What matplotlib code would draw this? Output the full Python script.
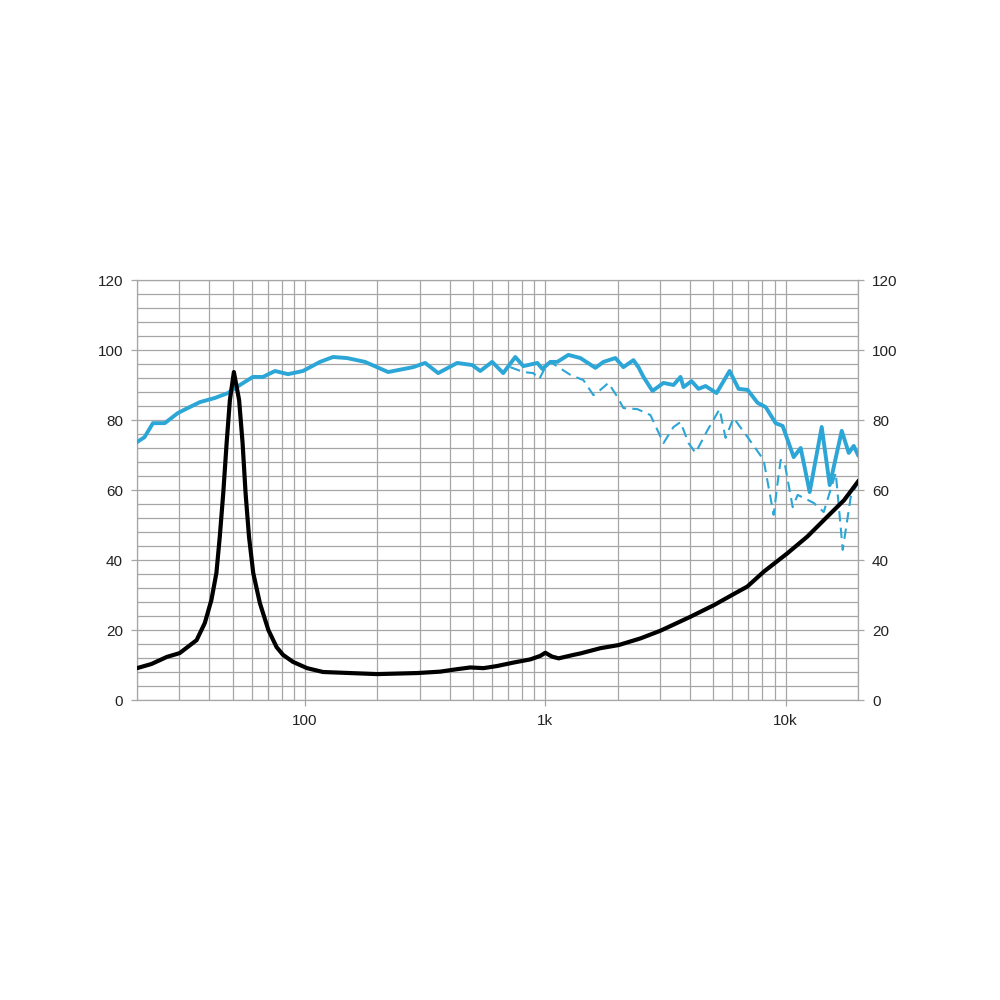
import numpy as np
import matplotlib
matplotlib.use("Agg")
import matplotlib.pyplot as plt
from matplotlib.ticker import LogLocator, FixedLocator, NullFormatter

plt.rcParams["font.family"] = ["Liberation Sans", "DejaVu Sans"]

# ===== 数据：频率 (Hz) / 声压 (dB) / 阻抗 (ohm) =====
spl_freq = [20, 21.5, 23.3, 26.1, 29.6, 32.5, 36.5, 42.2, 47.8, 53.6, 60.7, 66.8,
            75.0, 85.0, 98, 115.5, 130.8, 149.6, 177.8, 221.8, 281.8, 316.2, 358.3,
            429.9, 496.5, 536, 601, 668, 750, 810, 926, 972, 1049, 1122, 1247,
            1399, 1616, 1745, 1957, 2113, 2326, 2441, 2561, 2792, 3102, 3415, 3652,
            3758, 4058, 4340, 4642, 5158, 5843, 6371, 6945, 7644, 8254, 9086, 9716,
            10798, 11548, 12589, 14125, 15255, 17113, 18302, 19201, 20000]
spl_db = [73.7, 75.1, 79.1, 79.1, 82.0, 83.4, 85.1, 86.3, 87.7, 90.0, 92.3, 92.3,
          94.0, 93.1, 94.0, 96.6, 98.0, 97.7, 96.6, 93.7, 95.1, 96.3, 93.4,
          96.3, 95.7, 94.0, 96.6, 93.4, 98.0, 95.4, 96.3, 94.6, 96.6, 96.6, 98.6,
          97.7, 94.9, 96.6, 97.7, 95.1, 97.1, 95.1, 92.3, 88.3, 90.6, 90.0, 92.3,
          89.4, 91.1, 88.9, 89.7, 87.7, 94.0, 88.9, 88.6, 84.9, 83.7, 79.1, 78.3,
          69.4, 72.0, 59.4, 78.0, 61.4, 76.9, 70.6, 72.6, 70.0]

off_freq = [715, 810, 891, 944, 1000, 1049, 1133, 1271, 1440, 1585, 1695, 1830,
            1995, 2113, 2417, 2738, 3102, 3415, 3652, 3943, 4217, 4732, 5309, 5623,
            6072, 6945, 8096, 8913, 9268, 9532, 9904, 10696, 11220, 13084, 14400,
            16160, 17278, 18655, 19953]
off_db = [95.1, 93.7, 93.4, 91.7, 95.1, 96.6, 95.1, 92.9, 91.4, 87.1, 88.6, 90.6,
          86.6, 83.4, 83.1, 81.4, 73.4, 78.0, 79.4, 73.4, 70.6, 77.1, 83.1, 74.9,
          80.6, 75.1, 68.6, 52.9, 62.3, 68.6, 67.7, 55.1, 58.6, 56.3, 53.7,
          64.9, 42.9, 58.0, 62.0]

imp_freq = [20, 23.0, 26.6, 30.1, 35.4, 38.3, 40.8, 42.8, 44.2, 45.7, 47.2, 48.7,
            50.6, 53.2, 55.0, 56.6, 58.5, 60.9, 64.9, 70.4, 76.2, 81.0, 89.1, 102,
            118.9, 154, 199.5, 292.9, 365, 429, 487, 553, 629, 738, 866, 953, 1000,
            1066, 1136, 1312, 1399, 1695, 2020, 2488, 3014, 4020, 5028, 6091, 6923,
            8122, 10160, 12311, 14915, 17506, 20000]
imp_ohm = [9.1, 10.3, 12.3, 13.4, 17.1, 22.0, 28.6, 36.3, 46.6, 59.1, 73.4, 85.7,
           93.7, 85.7, 73.4, 59.1, 46.6, 36.3, 27.7, 20.0, 15.1, 12.9, 10.9, 9.1,
           8.0, 7.7, 7.4, 7.7, 8.1, 8.8, 9.3, 9.1, 9.7, 10.7, 11.6, 12.6, 13.5,
           12.4, 11.9, 12.9, 13.3, 14.8, 15.7, 17.6, 19.8, 23.8, 27.1, 30.3, 32.4,
           36.7, 41.9, 46.7, 52.4, 57.1, 62.4]

y_ticks = list(range(0, 121, 20))
x_ticks = [100, 1000, 10000]
x_labels = ["100", "1k", "10k"]

BLUE = "#2BA6D6"
GRID = "#A6A6A6"

fig = plt.figure(figsize=(10, 10), dpi=100)
ax = fig.add_axes([0.137, 0.30, 0.721, 0.42])

ax.plot(off_freq, off_db, color=BLUE, lw=1.5, ls=(0, (5, 3)), zorder=3)
ax.plot(spl_freq, spl_db, color=BLUE, lw=2.8, zorder=4, solid_joinstyle="round")
ax.plot(imp_freq, imp_ohm, color="black", lw=3.0, zorder=5, solid_joinstyle="round")

ax.set_xscale("log")
ax.set_xlim(20, 20000)
ax.set_ylim(0, 120)

ax.xaxis.set_major_locator(FixedLocator(x_ticks))
ax.set_xticklabels(x_labels)
ax.xaxis.set_minor_locator(LogLocator(base=10, subs=np.arange(2, 10)))
ax.xaxis.set_minor_formatter(NullFormatter())
ax.set_yticks(y_ticks)
ax.set_yticks(np.arange(0, 121, 4), minor=True)

ax.grid(True, which="both", color=GRID, lw=0.9)
ax.set_axisbelow(True)

ax.tick_params(axis="both", which="major", direction="out", length=4, width=0.9,
               color=GRID, labelsize=11, labelcolor="#222222", pad=6)
ax.tick_params(axis="both", which="minor", length=0)
ax.tick_params(axis="y", which="major", left=True, right=True,
               labelleft=True, labelright=True)
ax.tick_params(axis="x", which="major", top=False)

for s in ax.spines.values():
    s.set_color(GRID)
    s.set_linewidth(0.9)

fig.savefig("out.png", dpi=100, facecolor="white")
